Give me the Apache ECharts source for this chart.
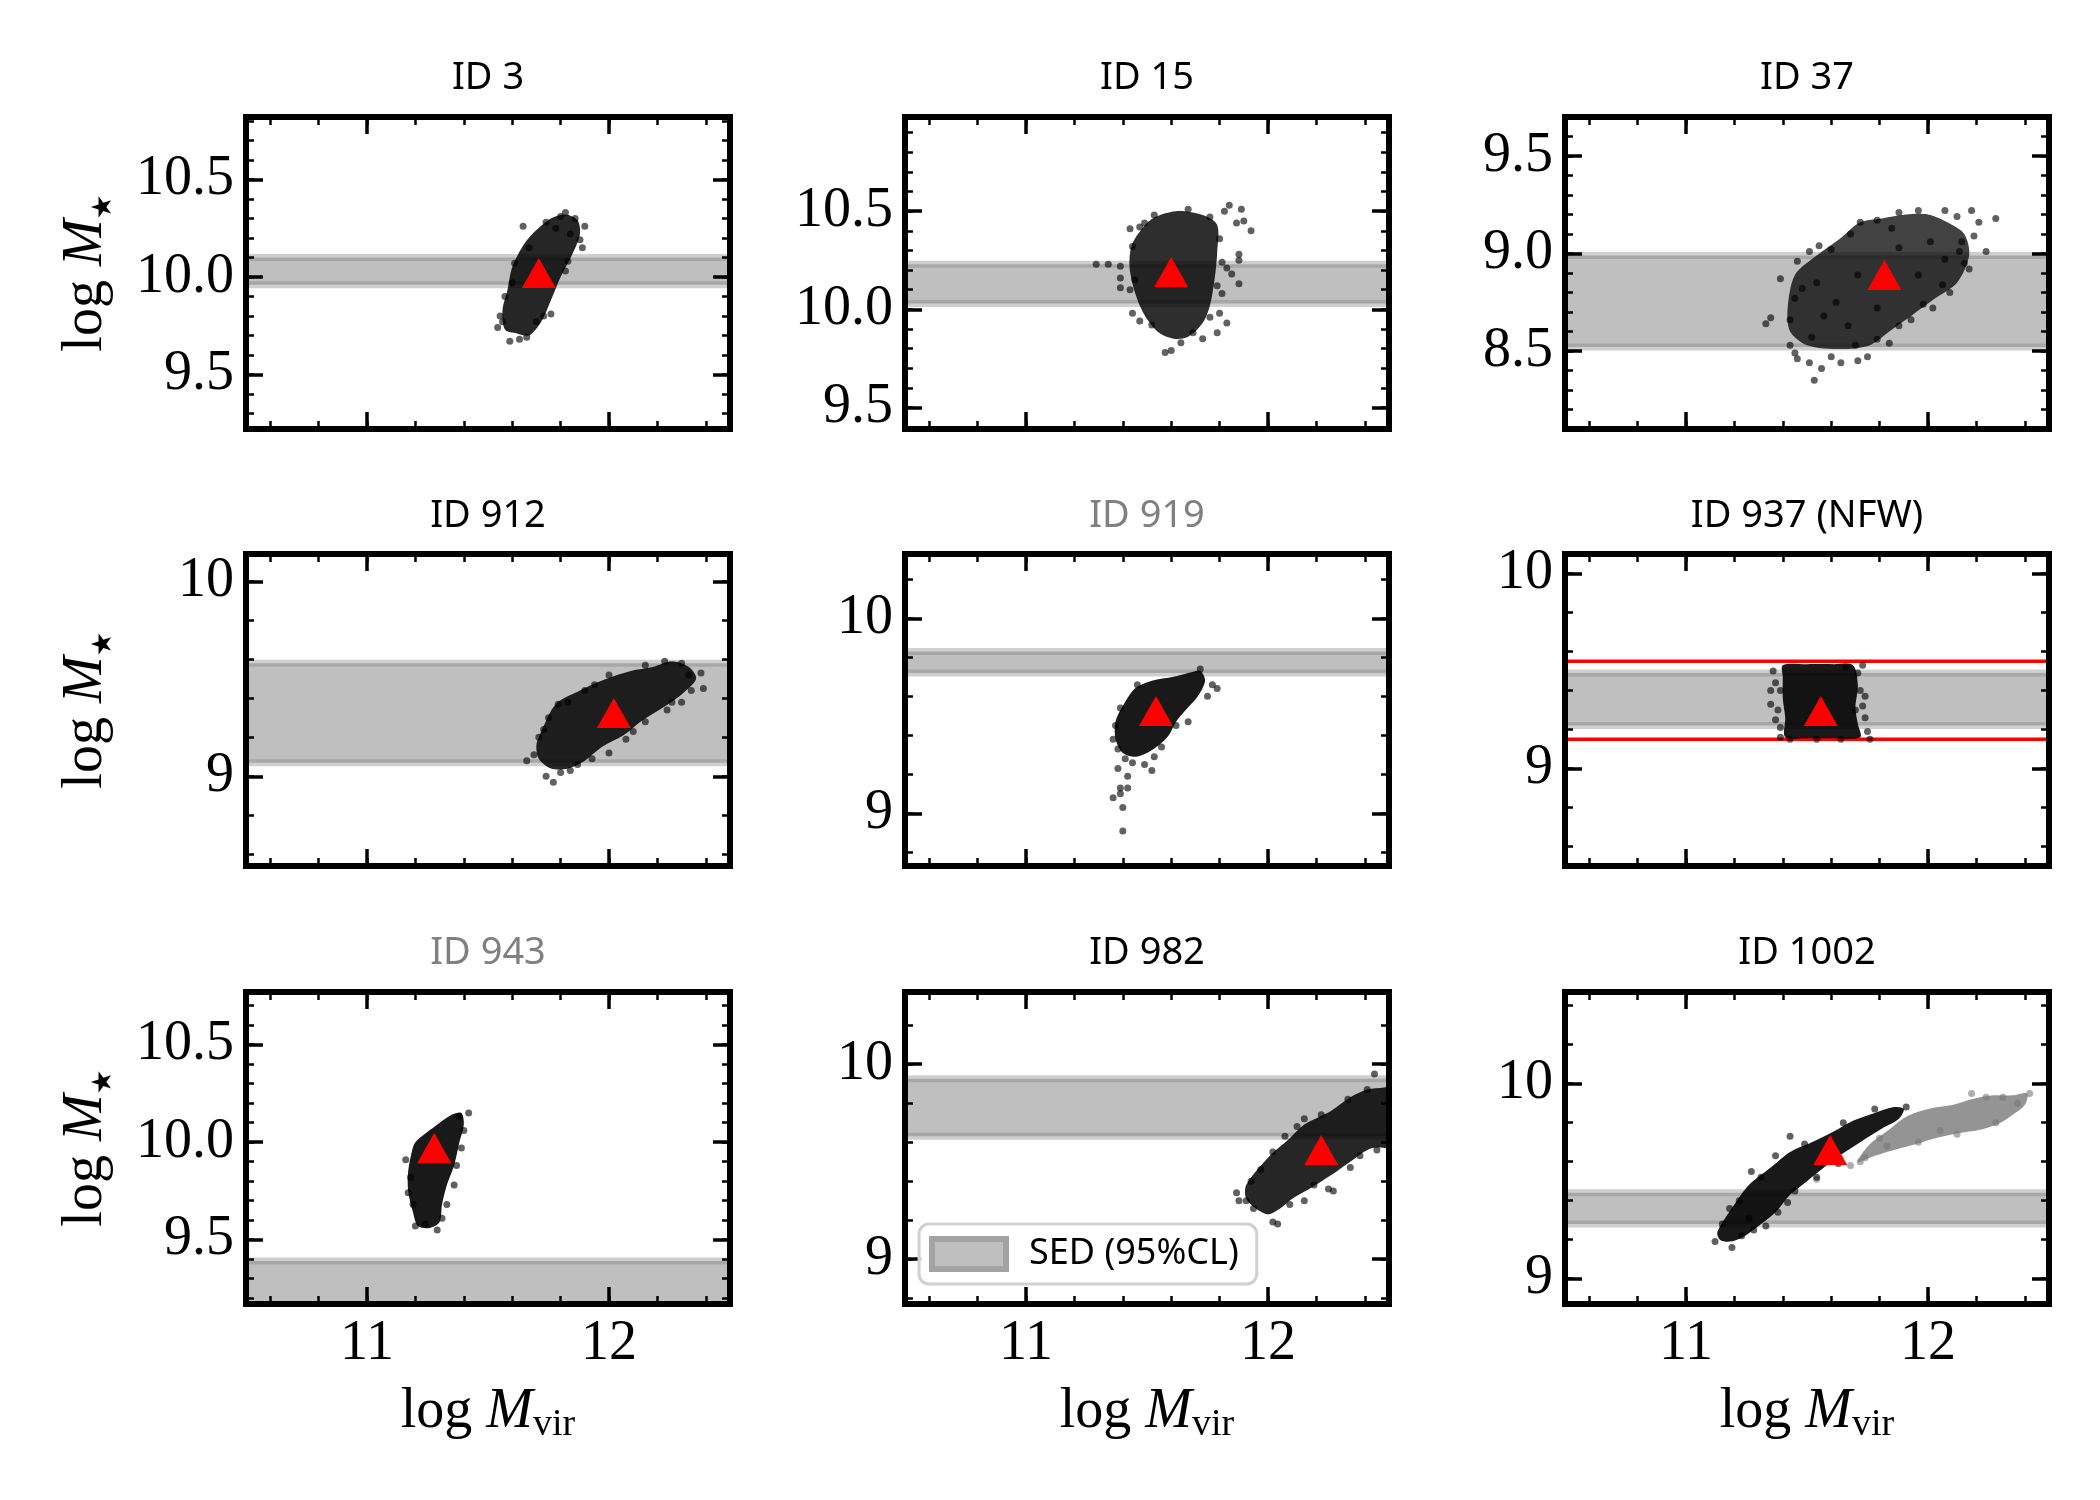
<!DOCTYPE html>
<html>
<head>
<meta charset="utf-8">
<script src="https://cdn.jsdelivr.net/npm/echarts@6/dist/echarts.min.js"></script>
<style>
    html, body { margin: 0; background: #fff; }
    #chart { width: 2100px; height: 1500px; }
</style>
</head>
<body>
<div id="chart"></div>
<script>
// panels, row by row
const ids = ['ID 3', 'ID 15', 'ID 37', 'ID 912', 'ID 919', 'ID 937 (NFW)', 'ID 943', 'ID 982', 'ID 1002'];
const greyTitles = ['ID 919', 'ID 943'];

// log M_vir axis (shared)
const xRange = [10.5, 12.5];
const xMajor = [11, 12];

// log M_star axis per panel
const yRanges = [[9.22, 10.82], [9.39, 10.98], [8.10, 9.70], [8.54, 10.14], [8.73, 10.33], [8.50, 10.10], [9.17, 10.77], [8.77, 10.37], [8.87, 10.47]];
const yStep = [0.5, 0.5, 0.5, 1, 1, 1, 0.5, 1, 1];

// SED 95% CL band [low, high]
const sedBand = [[9.96, 10.10], [10.03, 10.23], [8.52, 8.99], [9.07, 9.58], [9.72, 9.83], [9.22, 9.49], [8.90, 9.39], [9.63, 9.925], [9.28, 9.44]];
// NFW prior limits (ID 937)
const nfwLimits = [9.15, 9.55];

// best fit (red triangle)
const bestFit = [[11.71, 10.02], [11.60, 10.19], [11.82, 8.89], [12.02, 9.325], [11.537, 9.525], [11.557, 9.295], [11.278, 9.97], [12.22, 9.56], [11.596, 9.66]];

// dense part of each posterior cloud (outline)
const hull3 = [[11.60,10.05],[11.65,10.17],[11.70,10.24],[11.76,10.30],[11.82,10.32],[11.87,10.29],[11.88,10.22],[11.85,10.12],[11.80,10.00],[11.76,9.88],[11.72,9.77],[11.67,9.70],[11.62,9.71],[11.57,9.73],[11.56,9.83],[11.58,9.93]];
const hull15 = [[11.45,10.36],[11.52,10.46],[11.62,10.50],[11.73,10.48],[11.79,10.43],[11.79,10.29],[11.78,10.16],[11.76,10.02],[11.73,9.93],[11.67,9.86],[11.61,9.85],[11.55,9.88],[11.50,9.95],[11.46,10.05],[11.43,10.19],[11.43,10.29]];
const hull37 = [[11.45,8.89],[11.54,8.99],[11.64,9.08],[11.72,9.16],[11.81,9.18],[11.91,9.20],[12.00,9.20],[12.08,9.16],[12.15,9.10],[12.17,8.99],[12.12,8.85],[12.03,8.77],[11.93,8.68],[11.84,8.60],[11.76,8.53],[11.64,8.51],[11.50,8.53],[11.43,8.60],[11.42,8.72]];
const hull912 = [[11.72,9.23],[11.78,9.37],[11.88,9.44],[11.99,9.50],[12.09,9.54],[12.18,9.56],[12.26,9.59],[12.33,9.56],[12.36,9.50],[12.30,9.42],[12.22,9.35],[12.13,9.28],[12.06,9.21],[11.97,9.15],[11.90,9.08],[11.83,9.04],[11.76,9.04],[11.71,9.09],[11.70,9.16]];
const hull919 = [[11.40,9.55],[11.45,9.64],[11.52,9.68],[11.61,9.70],[11.67,9.72],[11.72,9.73],[11.74,9.68],[11.71,9.60],[11.66,9.53],[11.62,9.47],[11.59,9.40],[11.55,9.35],[11.50,9.31],[11.45,9.29],[11.40,9.31],[11.37,9.38],[11.37,9.47]];
const hull937 = [[11.40,9.53],[11.50,9.535],[11.61,9.535],[11.69,9.53],[11.71,9.43],[11.70,9.31],[11.71,9.23],[11.72,9.16],[11.61,9.155],[11.50,9.155],[11.41,9.16],[11.41,9.26],[11.40,9.36],[11.40,9.47]];
const hull943 = [[11.20,10.00],[11.28,10.08],[11.35,10.14],[11.39,10.15],[11.40,10.09],[11.38,9.99],[11.36,9.88],[11.33,9.78],[11.31,9.68],[11.30,9.59],[11.26,9.56],[11.21,9.57],[11.19,9.64],[11.17,9.75],[11.17,9.85],[11.185,9.95]];
const hull982 = [[11.91,9.38],[12.00,9.52],[12.09,9.62],[12.15,9.69],[12.26,9.76],[12.34,9.83],[12.41,9.87],[12.48,9.88],[12.56,9.90],[12.56,9.58],[12.43,9.57],[12.34,9.50],[12.26,9.43],[12.17,9.36],[12.10,9.31],[12.05,9.26],[12.00,9.23],[11.95,9.26],[11.91,9.31]];
const hull1002 = [[11.13,9.24],[11.20,9.38],[11.26,9.48],[11.35,9.57],[11.43,9.65],[11.52,9.70],[11.61,9.755],[11.69,9.81],[11.78,9.85],[11.86,9.88],[11.90,9.87],[11.88,9.82],[11.81,9.77],[11.72,9.70],[11.64,9.635],[11.57,9.57],[11.50,9.50],[11.43,9.43],[11.37,9.34],[11.30,9.27],[11.23,9.21],[11.18,9.19],[11.14,9.20]];
const hull1002Grey = [[11.71,9.60],[11.76,9.69],[11.84,9.765],[11.91,9.83],[12.00,9.87],[12.10,9.89],[12.18,9.92],[12.27,9.94],[12.35,9.94],[12.41,9.95],[12.40,9.89],[12.35,9.84],[12.30,9.80],[12.22,9.765],[12.12,9.745],[12.03,9.72],[11.95,9.69],[11.86,9.66],[11.78,9.63]];

// loose points around each cloud
const dots3 = [[11.645,10.26],[11.82,10.33],[11.90,10.26],[11.88,10.19],[11.76,9.81],[11.59,9.67],[11.54,9.74],[11.66,9.69],[11.70,9.77],[11.61,10.07],[11.67,10.15],[11.78,10.25],[11.84,10.22],[11.82,10.03],[11.56,9.77],[11.86,10.30],[11.80,10.31],[11.74,10.28],[11.89,10.15],[11.83,10.08],[11.55,9.80],[11.57,9.90],[11.60,9.97],[11.63,9.68],[11.73,9.80]];
const dots15 = [[11.29,10.23],[11.34,10.23],[11.39,10.22],[11.39,10.16],[11.39,10.11],[11.43,10.41],[11.49,10.44],[11.53,10.48],[11.84,10.53],[11.89,10.51],[11.82,10.50],[11.87,10.44],[11.90,10.45],[11.93,10.40],[11.88,10.28],[11.88,10.25],[11.85,10.18],[11.88,10.13],[11.83,10.21],[11.81,10.08],[11.80,9.98],[11.83,9.93],[11.79,9.88],[11.76,9.96],[11.73,9.85],[11.64,9.83],[11.60,9.79],[11.575,9.78],[11.44,9.98],[11.47,9.94],[11.52,9.92],[11.43,10.10],[11.44,10.32],[11.69,9.88],[11.80,10.36],[11.81,10.24],[11.79,10.12],[11.45,10.15],[11.47,10.42],[11.67,10.51],[11.76,10.47]];
const dots37 = [[11.33,8.64],[11.35,8.67],[11.39,8.87],[11.46,8.96],[11.51,9.01],[11.55,9.04],[11.72,9.16],[11.79,9.17],[11.88,9.21],[11.96,9.22],[12.07,9.22],[12.12,9.19],[12.18,9.22],[12.21,9.16],[12.28,9.18],[12.24,9.01],[12.19,9.09],[12.17,8.92],[12.13,9.01],[12.09,8.80],[12.02,8.72],[11.93,8.66],[11.84,8.54],[11.79,8.56],[11.75,8.47],[11.71,8.45],[11.64,8.44],[11.60,8.47],[11.56,8.41],[11.51,8.44],[11.46,8.46],[11.53,8.35],[11.43,8.53],[11.45,8.49],[11.45,8.77],[11.54,8.85],[11.62,8.75],[11.71,8.89],[11.88,9.03],[11.96,8.89],[11.79,8.72],[12.01,9.06],[11.67,8.63],[11.57,8.68],[12.07,8.97],[11.43,8.66],[11.48,8.82],[11.60,9.02],[11.68,9.10],[11.85,9.13],[12.14,9.06],[12.15,8.95],[12.06,8.84],[11.98,8.74],[11.88,8.63],[11.70,8.53],[11.52,8.57]];
const dots912 = [[11.66,9.08],[11.69,9.11],[11.73,9.24],[11.79,9.37],[11.83,9.38],[11.74,9.00],[11.77,8.97],[11.84,9.03],[11.87,9.06],[11.93,9.09],[12.00,9.12],[12.07,9.19],[12.15,9.28],[12.24,9.34],[12.30,9.38],[12.34,9.44],[12.39,9.45],[12.38,9.53],[12.30,9.58],[12.23,9.59],[12.15,9.57],[12.00,9.52],[11.94,9.47],[11.80,9.02],[11.71,9.20],[11.75,9.30],[11.90,9.44],[12.10,9.23],[12.26,9.38],[12.33,9.52]];
const dots919 = [[11.36,9.38],[11.38,9.33],[11.39,9.54],[11.46,9.66],[11.79,9.64],[11.77,9.66],[11.75,9.60],[11.67,9.47],[11.56,9.34],[11.53,9.29],[11.52,9.22],[11.49,9.25],[11.44,9.26],[11.42,9.19],[11.38,9.23],[11.39,9.13],[11.42,9.13],[11.36,9.08],[11.39,9.10],[11.40,9.03],[11.40,8.91],[11.41,9.28],[11.72,9.74],[11.62,9.45],[11.37,9.45]];
const dots937 = [[11.36,9.50],[11.37,9.44],[11.35,9.40],[11.35,9.33],[11.38,9.30],[11.37,9.25],[11.39,9.21],[11.39,9.16],[11.71,9.49],[11.73,9.53],[11.72,9.40],[11.74,9.37],[11.73,9.32],[11.74,9.26],[11.75,9.19],[11.76,9.15],[11.66,9.52],[11.43,9.15],[11.54,9.15],[11.64,9.15],[11.39,9.40],[11.70,9.30]];
const dots943 = [[11.42,10.15],[11.38,10.13],[11.16,9.91],[11.39,9.97],[11.37,9.88],[11.36,9.78],[11.33,9.68],[11.31,9.61],[11.29,9.55],[11.20,9.57],[11.17,9.74],[11.24,9.58],[11.40,10.06],[11.18,9.82],[11.19,9.68]];
const dots982 = [[11.87,9.34],[11.88,9.30],[11.91,9.30],[11.94,9.26],[11.97,9.46],[12.02,9.19],[12.04,9.18],[12.07,9.63],[12.15,9.72],[12.12,9.68],[12.27,9.35],[12.25,9.36],[12.34,9.47],[12.45,9.56],[12.44,9.95],[12.41,9.87],[12.33,9.82],[12.15,9.30],[12.19,9.38],[12.09,9.28],[11.93,9.40],[12.02,9.55],[12.22,9.74],[12.38,9.53]];
const dots1002 = [[11.12,9.19],[11.19,9.16],[11.18,9.36],[11.27,9.55],[11.37,9.63],[11.43,9.73],[11.49,9.69],[11.65,9.80],[11.78,9.87],[11.91,9.88],[11.33,9.27],[11.28,9.25],[11.23,9.22],[11.26,9.31],[11.42,9.39],[11.38,9.34],[11.45,9.45],[11.54,9.52],[11.63,9.59],[11.15,9.28],[11.22,9.40],[11.31,9.52]];
const dots1002Grey = [[12.18,9.95],[11.72,9.60],[11.83,9.68],[11.96,9.70],[12.12,9.74],[12.24,9.93],[12.31,9.93],[12.37,9.90],[12.05,9.76],[11.74,9.62],[11.68,9.58],[11.54,9.51],[11.80,9.72],[12.42,9.95],[12.28,9.80]];

const hulls = [hull3, hull15, hull37, hull912, hull919, hull937, hull943, hull982, hull1002];
const dots = [dots3, dots15, dots37, dots912, dots919, dots937, dots943, dots982, dots1002];
const hullAlpha = [0.85, 0.82, 0.74, 0.85, 0.9, 0.9, 0.9, 0.85, 0.9];

// layout
const gridLeft = [246, 905, 1565];
const gridTop = [117, 554, 992];
const gridW = 484, gridH = 312;
const titleY = [78, 516, 953];

const SERIF = 'Liberation Serif';
const SANS = 'Noto Sans';

function ticksFor(min, max, step) {
    let out = [];
    let v = Math.ceil(min / step - 1e-9) * step;
    while (v <= max + 1e-9) {
        out.push(+v.toFixed(3));
        v += step;
    }
    return out;
}

function makeAxis(i, pos, range, values, minor, fmt) {
    let ax = {
        type: 'value', gridIndex: i, position: pos, min: range[0], max: range[1], z: 10,
        splitLine: {show: false},
        axisLine: {show: !minor, onZero: false, lineStyle: {color: '#000', width: 6, cap: 'square'}},
        axisTick: {
            show: true, inside: true, customValues: values, length: minor ? 8 : 17,
            lineStyle: {color: '#000', width: minor ? 2.5 : 3.5}
        },
        axisLabel: {show: false}
    };
    if (fmt) {
        ax.axisLabel = {
            show: true, customValues: values, formatter: fmt,
            fontFamily: SERIF, fontSize: 56, color: '#000', margin: 12
        };
    }
    return ax;
}

function cloudSeries(hull, color, ax, z) {
    return Object.assign({
        type: 'custom', clip: true, silent: true, z: z,
        data: hull,
        renderItem: function (params, api) {
            if (params.dataIndex !== 0) return null;
            let pts = hull.map(p => api.coord(p));
            return {type: 'polygon', shape: {points: pts, smooth: 0.3}, style: {fill: color}};
        }
    }, ax);
}

function dotSeries(data, color, ax, z) {
    return Object.assign({
        type: 'scatter', silent: true, z: z, symbolSize: 7,
        itemStyle: {color: color, opacity: 1}, data: data
    }, ax);
}

let grids = [], xAxes = [], yAxes = [], series = [], graphics = [];

ids.forEach(function (id, i) {
    let row = Math.floor(i / 3), col = i % 3;
    grids.push({left: gridLeft[col], top: gridTop[row], width: gridW, height: gridH});

    // x axes: bottom major, bottom minor, top major, top minor
    let xMinor = ticksFor(xRange[0], xRange[1], 0.2);
    let xb = makeAxis(i, 'bottom', xRange, xMajor, false, row === 2 ? (v => String(Math.round(v))) : null);
    if (row === 2) {
        xb.name = '{r|log }{i|M}{s|vir}';
        xb.nameLocation = 'middle';
        xb.nameGap = 76;
        xb.nameTextStyle = {
            rich: {
                r: {fontFamily: SERIF, fontSize: 56, lineHeight: 64, color: '#000'},
                i: {fontFamily: SERIF, fontStyle: 'italic', fontSize: 56, lineHeight: 64, color: '#000'},
                s: {fontFamily: SERIF, fontSize: 38, lineHeight: 34, verticalAlign: 'bottom', color: '#000'}
            }
        };
    }
    xAxes.push(xb);
    xAxes.push(makeAxis(i, 'bottom', xRange, xMinor, true, null));
    xAxes.push(makeAxis(i, 'top', xRange, xMajor, false, null));
    xAxes.push(makeAxis(i, 'top', xRange, xMinor, true, null));

    // y axes: left major, left minor, right major, right minor
    let yr = yRanges[i], st = yStep[i];
    let yMaj = ticksFor(yr[0], yr[1], st);
    let yMin = ticksFor(yr[0], yr[1], st / 5);
    let fmt = st < 1 ? (v => v.toFixed(1)) : (v => v.toFixed(0));
    let yl = makeAxis(i, 'left', yr, yMaj, false, fmt);
    if (col === 0) {
        yl.name = '{r|log }{i|M}{s|★}';
        yl.nameLocation = 'middle';
        yl.nameGap = 128;
        yl.nameRotate = 90;
        yl.nameTextStyle = {
            rich: {
                r: {fontFamily: SERIF, fontSize: 56, lineHeight: 64, color: '#000'},
                i: {fontFamily: SERIF, fontStyle: 'italic', fontSize: 56, lineHeight: 64, color: '#000'},
                s: {fontFamily: 'DejaVu Sans', fontSize: 28, lineHeight: 44, verticalAlign: 'bottom', color: '#000'}
            }
        };
    }
    yAxes.push(yl);
    yAxes.push(makeAxis(i, 'left', yr, yMin, true, null));
    yAxes.push(makeAxis(i, 'right', yr, yMaj, false, null));
    yAxes.push(makeAxis(i, 'right', yr, yMin, true, null));

    let ax = {xAxisIndex: 4 * i, yAxisIndex: 4 * i};

    // SED band: grey fill with soft edges
    series.push(Object.assign({
        type: 'custom', name: 'SED (95%CL)', clip: true, silent: true, z: 2,
        data: [[xRange[0], sedBand[i][0], xRange[1], sedBand[i][1]]],
        encode: {x: [0, 2], y: [1, 3]},
        renderItem: function (params, api) {
            let a = api.coord([api.value(0), api.value(3)]);
            let b = api.coord([api.value(2), api.value(1)]);
            let edge = {stroke: 'rgba(128,128,128,0.38)', lineWidth: 7};
            return {
                type: 'group', children: [
                    {type: 'rect', shape: {x: a[0], y: a[1], width: b[0] - a[0], height: b[1] - a[1]}, style: {fill: 'rgba(128,128,128,0.5)'}},
                    {type: 'line', shape: {x1: a[0], y1: a[1], x2: b[0], y2: a[1]}, style: edge},
                    {type: 'line', shape: {x1: a[0], y1: b[1], x2: b[0], y2: b[1]}, style: edge}
                ]
            };
        }
    }, ax));

    // NFW prior limits
    if (id.indexOf('NFW') >= 0) {
        series.push(Object.assign({
            type: 'custom', clip: true, silent: true, z: 3,
            data: nfwLimits.map(v => [xRange[0], v, xRange[1]]),
            encode: {x: [0, 2], y: 1},
            renderItem: function (params, api) {
                let a = api.coord([api.value(0), api.value(1)]);
                let b = api.coord([api.value(2), api.value(1)]);
                return {type: 'line', shape: {x1: a[0], y1: a[1], x2: b[0], y2: b[1]}, style: {stroke: '#ff0000', lineWidth: 3.5}};
            }
        }, ax));
    }

    // grey (rejected) part of ID 1002
    if (id === 'ID 1002') {
        series.push(cloudSeries(hull1002Grey, 'rgba(125,125,125,0.82)', ax, 3));
        series.push(dotSeries(dots1002Grey, 'rgba(120,120,120,0.6)', ax, 3));
    }

    series.push(cloudSeries(hulls[i], 'rgba(0,0,0,' + hullAlpha[i] + ')', ax, 4));
    series.push(dotSeries(dots[i], 'rgba(0,0,0,0.62)', ax, 4));

    // best fit
    series.push(Object.assign({
        type: 'scatter', silent: true, z: 6, symbol: 'triangle', symbolSize: [34, 30],
        itemStyle: {color: '#ff0000', opacity: 1}, data: [bestFit[i]]
    }, ax));

    graphics.push({
        type: 'text', x: gridLeft[col] + gridW / 2, y: titleY[row], z: 20,
        style: {
            text: id, align: 'center', verticalAlign: 'middle',
            fontFamily: SANS, fontSize: 38,
            fill: greyTitles.indexOf(id) >= 0 ? '#808080' : '#000'
        }
    });
});

let chart = echarts.init(document.getElementById('chart'), null, {renderer: 'canvas'});
chart.setOption({
    animation: false,
    backgroundColor: '#fff',
    grid: grids,
    xAxis: xAxes,
    yAxis: yAxes,
    legend: {
        left: 919, top: 1224, z: 20,
        selectedMode: false,
        data: [{name: 'SED (95%CL)', icon: 'rect', itemStyle: {color: '#bfbfbf', borderColor: '#a3a3a3', borderWidth: 6}}],
        itemWidth: 74, itemHeight: 30,
        padding: [12, 18, 12, 10],
        backgroundColor: 'rgba(255,255,255,0.85)',
        borderColor: '#d0d0d0', borderWidth: 3, borderRadius: 10,
        textStyle: {fontFamily: SANS, fontSize: 36, color: '#000', padding: [0, 0, 0, 18]}
    },
    graphic: graphics,
    series: series
});
</script>
</body>
</html>
